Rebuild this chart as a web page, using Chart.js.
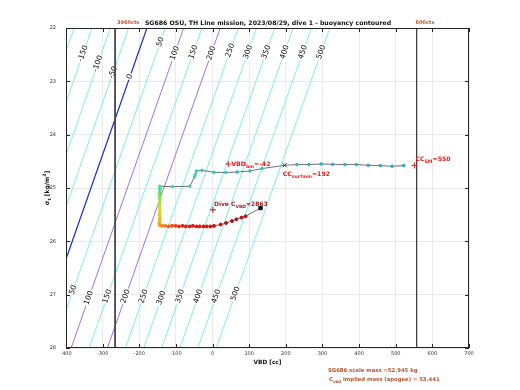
<!DOCTYPE html>
<html>
<head>
<meta charset="utf-8">
<script src="https://cdn.jsdelivr.net/npm/chart.js@4/dist/chart.umd.min.js"></script>
<style>
  html, body { margin: 0; padding: 0; background: #fff; }
  #wrap { width: 520px; height: 390px; }
</style>
</head>
<body>
<div id="wrap"><canvas id="buoyChart" width="520" height="390"></canvas></div>
<script>
// buoyancy contours (g): VBD [cc] where each contour meets sigma 22 and sigma 28
const contourLevels    = [-200, -150, -100, -50, 0, 50, 100, 150, 200, 250, 300, 350, 400, 450, 500];
const contourTopVBD    = [-378, -329, -279, -229, -179, -129, -79, -29, 21, 70, 120, 170, 220, 270, 320];
const contourBottomVBD = [-683, -634, -584, -535, -485, -436, -386, -337, -287, -238, -188, -139, -89, -40, 10];

// inline contour labels (level, sigma where the label sits)
const topLabelLevels    = [-150, -100, -50, 0, 50, 100, 150, 200, 250, 300, 350, 400, 450, 500];
const topLabelSigma     = [22.48, 22.67, 22.83, 22.91, 22.26, 22.47, 22.45, 22.47, 22.42, 22.45, 22.45, 22.45, 22.45, 22.45];
const bottomLabelLevels = [50, 100, 150, 200, 250, 300, 350, 400, 450, 500];
const bottomLabelSigma  = [26.91, 27.06, 27.03, 27.03, 27.03, 27.06, 27.03, 27.03, 27.03, 26.98];

// dive trace: VBD [cc] and sigma_t
const traceVBD = [522, 490, 458, 425, 393, 361, 328, 296, 263, 230, 197, 135, 102, 67, 36, 4, -29, -44, -47, -49, -62, -109, -144,
  -144, -144, -145, -144, -144, -145, -144, -144, -145, -144, -144, -145, -144,
  -138, -129, -120, -111, -101, -92, -82, -73, -63, -54, -44, -35, -25, -16, -6, 4,
  22, 37, 53, 65, 79, 90, 131];
const traceSigma = [24.58, 24.593, 24.58, 24.574, 24.561, 24.561, 24.556, 24.55, 24.561, 24.561, 24.574, 24.636, 24.68, 24.70, 24.71, 24.706, 24.668, 24.68, 24.743, 24.79, 24.968, 24.974, 24.968,
  25.02, 25.08, 25.14, 25.20, 25.26, 25.32, 25.38, 25.44, 25.50, 25.56, 25.61, 25.66, 25.70,
  25.71, 25.71, 25.72, 25.71, 25.71, 25.72, 25.71, 25.72, 25.72, 25.71, 25.72, 25.72, 25.72, 25.72, 25.72, 25.71,
  25.686, 25.656, 25.619, 25.587, 25.555, 25.531, 25.375];

// VBD limits (cts) and annotated points
const vbdLimits = [-266, 557];
const ccSM = { x: 551, y: 24.575 };
const vbdBm = { x: 43, y: 24.55 };
const diveCvbd = { x: 1, y: 25.41 };

// colours along the trace
const colourStops = [[0, '#22a0da'], [22, '#3cd8b4'], [23, '#44e07c'], [29, '#d8e030'], [35, '#f0a020'],
  [38, '#f06020'], [42, '#e02010'], [51, '#d01010'], [57, '#b01010']];
function hex(c) { return [1, 3, 5].map(i => parseInt(c.substr(i, 2), 16)); }
function stopColour(i) {
  for (let k = 1; k < colourStops.length; k++) {
    const [i0, c0] = colourStops[k - 1], [i1, c1] = colourStops[k];
    if (i <= i1) {
      const t = (i - i0) / (i1 - i0), a = hex(c0), b = hex(c1);
      return 'rgb(' + a.map((v, j) => Math.round(v + (b[j] - v) * t)).join(',') + ')';
    }
  }
  return colourStops[colourStops.length - 1][1];
}

const xMarkIdx = 10, squareIdx = traceVBD.length - 1;
const tracePts = traceVBD.map((v, i) => ({ x: v, y: traceSigma[i] }));
const ptColours = tracePts.map((p, i) => i === xMarkIdx ? '#404040' : i === squareIdx ? '#111' : stopColour(i));
const ptStyles = tracePts.map((p, i) => i === xMarkIdx ? 'crossRot' : i === squareIdx ? 'rect' : 'circle');
const ptRadius = tracePts.map((p, i) => i === xMarkIdx ? 3 : i === squareIdx ? 2.4 : (i < 23 ? 1.3 : 1.5));

function contourColour(level) {
  if (level === 0) return '#1a30c0';
  if (level === 100 || level === 200) return '#8a4fd0';
  return '#5ee8e8';
}

const datasets = [];
datasets.push({
  data: tracePts, showLine: true, borderColor: '#4a4a4a', borderWidth: 0.8,
  pointBackgroundColor: ptColours, pointBorderColor: ptColours, pointStyle: ptStyles,
  pointRadius: ptRadius, pointBorderWidth: 1, clip: 0
});
datasets.push({
  data: [ccSM, vbdBm, diveCvbd], showLine: false, pointStyle: 'cross', pointRadius: 3,
  pointBorderColor: ['#e02020', '#e02020', '#a01818'], pointBorderWidth: 1, clip: 0
});
vbdLimits.forEach(v => datasets.push({
  data: [{ x: v, y: 22 }, { x: v, y: 28 }], showLine: true, borderColor: '#404040', borderWidth: 1,
  pointRadius: 0, clip: 0
}));
const firstContour = datasets.length;
contourLevels.forEach((lv, i) => datasets.push({
  data: [{ x: contourTopVBD[i], y: 22 }, { x: contourBottomVBD[i], y: 28 }], showLine: true,
  borderColor: contourColour(lv), borderWidth: lv === 0 ? 1.2 : 0.8, pointRadius: 0, clip: 0
}));

function drawRich(ctx, x, y, parts, size, colour, align) {
  const widths = parts.map(p => {
    ctx.font = 'bold ' + (p.sub || p.sup ? size * 0.75 : size) + 'px "DejaVu Sans"';
    return ctx.measureText(p.t).width;
  });
  let cx = align === 'center' ? x - widths.reduce((a, b) => a + b, 0) / 2 : x;
  ctx.fillStyle = colour; ctx.textAlign = 'left'; ctx.textBaseline = 'middle';
  parts.forEach((p, k) => {
    ctx.font = 'bold ' + (p.sub || p.sup ? size * 0.75 : size) + 'px "DejaVu Sans"';
    ctx.fillText(p.t, cx, y + (p.sub ? size * 0.4 : p.sup ? -size * 0.4 : 0));
    cx += widths[k];
  });
}

const decorations = {
  id: 'decorations',
  afterDatasetDraw(chart, args) {
    // contour labels go on top of the contours but under everything else
    if (args.index !== firstContour) return;
    const { ctx, scales: { x, y } } = chart;
    const angle = Math.atan2(y.getPixelForValue(28) - y.getPixelForValue(22),
      x.getPixelForValue(contourBottomVBD[4]) - x.getPixelForValue(contourTopVBD[4]));
    const label = (lv, s) => {
      const i = contourLevels.indexOf(lv);
      const v = contourTopVBD[i] + (contourBottomVBD[i] - contourTopVBD[i]) * (s - 22) / 6;
      const px = x.getPixelForValue(v), py = y.getPixelForValue(s);
      ctx.save();
      ctx.translate(px, py);
      ctx.rotate(angle + Math.PI);
      ctx.font = '7.5px "DejaVu Sans"';
      const w = ctx.measureText(String(lv)).width;
      ctx.fillStyle = '#fff';
      ctx.fillRect(-w / 2 - 1, -4, w + 2, 8);
      ctx.fillStyle = '#111';
      ctx.textAlign = 'center'; ctx.textBaseline = 'middle';
      ctx.fillText(String(lv), 0, 0);
      ctx.restore();
    };
    topLabelLevels.forEach((lv, i) => label(lv, topLabelSigma[i]));
    bottomLabelLevels.forEach((lv, i) => label(lv, bottomLabelSigma[i]));
  },
  afterDatasetsDraw(chart) {
    const { ctx, chartArea: a, scales: { x, y } } = chart;
    ctx.save();
    // annotations
    const red = '#e62020';
    let px = x.getPixelForValue(ccSM.x), py = y.getPixelForValue(ccSM.y);
    drawRich(ctx, px + 1, py - 6, [{ t: 'CC' }, { t: 'SM', sub: true }, { t: '=550' }], 6.2, red);
    const xm = tracePts[xMarkIdx];
    px = x.getPixelForValue(xm.x); py = y.getPixelForValue(xm.y);
    drawRich(ctx, px - 2, py + 9, [{ t: 'CC' }, { t: 'surfmin', sub: true }, { t: '=192' }], 6.2, red);
    px = x.getPixelForValue(vbdBm.x); py = y.getPixelForValue(vbdBm.y);
    drawRich(ctx, px + 3, py, [{ t: 'VBD' }, { t: 'bm', sub: true }, { t: '=-42' }], 6.2, red);
    px = x.getPixelForValue(diveCvbd.x); py = y.getPixelForValue(diveCvbd.y);
    drawRich(ctx, px + 1, py - 5, [{ t: 'Dive C' }, { t: 'VBD', sub: true }, { t: '=2863' }], 6, '#9a1c1c');

    // box and inward ticks
    ctx.strokeStyle = '#262626'; ctx.lineWidth = 1;
    ctx.strokeRect(a.left + 0.5, a.top + 0.5, a.right - a.left - 1, a.bottom - a.top - 1);
    ctx.beginPath();
    x.ticks.forEach(t => {
      const p = Math.round(x.getPixelForValue(t.value)) + 0.5;
      ctx.moveTo(p, a.bottom); ctx.lineTo(p, a.bottom - 4);
      ctx.moveTo(p, a.top); ctx.lineTo(p, a.top + 4);
    });
    y.ticks.forEach(t => {
      const p = Math.round(y.getPixelForValue(t.value)) + 0.5;
      ctx.moveTo(a.left, p); ctx.lineTo(a.left + 4, p);
      ctx.moveTo(a.right, p); ctx.lineTo(a.right - 4, p);
    });
    ctx.stroke();

    // titles and notes
    const brown = '#b5532a';
    ctx.fillStyle = '#111'; ctx.textBaseline = 'middle'; ctx.textAlign = 'center';
    ctx.font = 'bold 6.2px "DejaVu Sans"';
    ctx.fillText('SG686 OSU, TH Line mission, 2023/08/29, dive 1 - buoyancy contoured', 268, 23.5);
    ctx.fillStyle = brown; ctx.textAlign = 'left';
    ctx.font = 'bold 5px "DejaVu Sans"';
    ctx.fillText('3960cts', x.getPixelForValue(vbdLimits[0]) + 2, 22.5);
    ctx.fillText('600cts', x.getPixelForValue(vbdLimits[1]) - 1, 22.5);
    ctx.fillStyle = '#111'; ctx.textAlign = 'center';
    ctx.font = 'bold 5.8px "DejaVu Sans"';
    ctx.fillText('VBD [cc]', (a.left + a.right) / 2, 362.5);
    ctx.textAlign = 'left'; ctx.fillStyle = brown;
    ctx.font = 'bold 5.3px "DejaVu Sans"';
    ctx.fillText('SG686 scale mass =52.945 kg', 328, 370.5);
    drawRich(ctx, 329, 379.5, [{ t: 'C' }, { t: 'vbd', sub: true }, { t: ' implied mass (apogee) = 53.441' }], 5.3, brown);
    ctx.save();
    ctx.translate(47, (a.top + a.bottom) / 2);
    ctx.rotate(-Math.PI / 2);
    drawRich(ctx, 0, 0, [{ t: 'σ' }, { t: 't', sub: true }, { t: ' [kg/m' }, { t: '3', sup: true }, { t: ']' }], 6, '#111', 'center');
    ctx.restore();
    ctx.restore();
  }
};

new Chart(document.getElementById('buoyChart'), {
  type: 'scatter',
  data: { datasets },
  options: {
    responsive: false,
    animation: false,
    events: [],
    layout: { padding: { top: 28, right: 51, bottom: 0, left: 0 } },
    plugins: { legend: { display: false }, tooltip: { enabled: false } },
    scales: {
      x: {
        type: 'linear', min: -400, max: 700,
        afterFit: s => { s.height = 42; },
        border: { display: false },
        grid: { color: '#e4e4e4', lineWidth: 0.8, drawTicks: false },
        ticks: { stepSize: 100, padding: 3, color: '#333', font: { family: 'DejaVu Sans', size: 5 } }
      },
      y: {
        type: 'linear', min: 22, max: 28, reverse: true,
        afterFit: s => { s.width = 66; },
        border: { display: false },
        grid: { color: '#e4e4e4', lineWidth: 0.8, drawTicks: false },
        ticks: { stepSize: 1, padding: 10, color: '#333', font: { family: 'DejaVu Sans', size: 5 } }
      }
    }
  },
  plugins: [decorations]
});
</script>
</body>
</html>
